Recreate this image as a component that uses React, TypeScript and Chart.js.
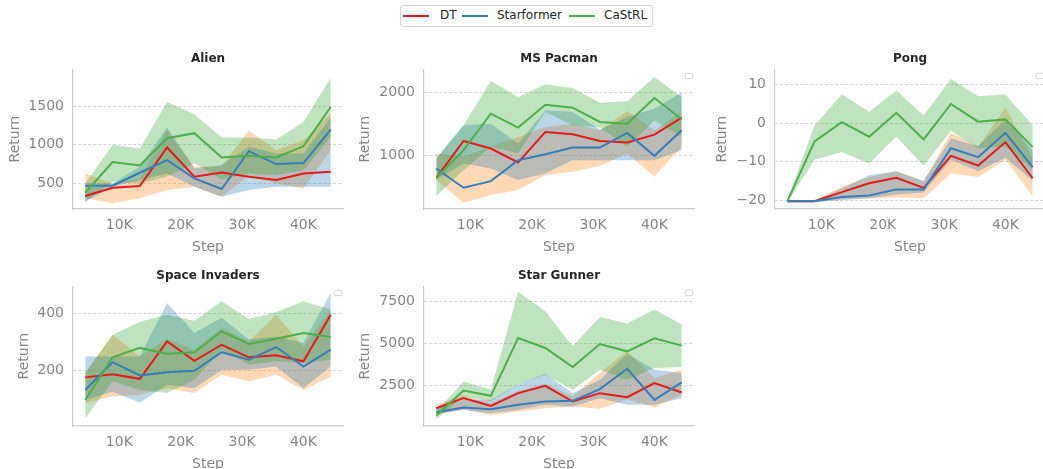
import React, { useEffect, useRef } from 'react';
import { Chart, registerables } from 'chart.js';

Chart.register(...registerables);

const FONT = 'DejaVu Sans';
const TEXT_GRAY = '#858585';
const TITLE_COLOR = '#262626';

const STEPS = [4444, 8889, 13333, 17778, 22222, 26667, 31111, 35556, 40000, 44444];
const X_TICKS = [10000, 20000, 30000, 40000];
const SERIES_NAMES = ['DT', 'Starformer', 'CaStRL'];
const LINE_COLORS = ['#e41a1c', '#377eb8', '#4daf4a'];
const BAND_COLORS = ['rgba(255,127,14,0.3)', 'rgba(31,119,180,0.3)', 'rgba(44,160,44,0.3)'];

// Alien
const ALIEN_DT = [336, 444, 466, 966, 586, 642, 586, 543, 629, 651];
const ALIEN_DT_LO = [306, 241, 306, 414, 457, 328, 600, 500, 435, 930];
const ALIEN_DT_HI = [629, 500, 560, 1190, 716, 716, 1190, 931, 1060, 1405];
const ALIEN_SF = [470, 470, 638, 802, 565, 427, 918, 750, 763, 1198];
const ALIEN_SF_LO = [263, 457, 543, 629, 457, 328, 414, 457, 457, 457];
const ALIEN_SF_HI = [500, 500, 716, 1224, 694, 740, 974, 888, 888, 1350];
const ALIEN_CS = [380, 776, 733, 1086, 1151, 836, 860, 836, 983, 1491];
const ALIEN_CS_LO = [263, 520, 500, 586, 760, 552, 629, 608, 672, 1103];
const ALIEN_CS_HI = [500, 1000, 953, 1556, 1397, 1095, 1095, 1069, 1297, 1871];

// MS Pacman
const PACMAN_DT = [656, 1234, 1115, 896, 1375, 1339, 1234, 1208, 1333, 1599];
const PACMAN_DT_LO = [620, 266, 385, 464, 698, 750, 839, 1036, 672, 1141];
const PACMAN_DT_HI = [1036, 984, 1141, 1297, 1453, 1505, 1401, 1703, 1401, 1688];
const PACMAN_SF = [802, 500, 604, 932, 1026, 1130, 1130, 1359, 1000, 1401];
const PACMAN_SF_LO = [620, 880, 802, 620, 724, 932, 932, 932, 932, 1089];
const PACMAN_SF_HI = [958, 1479, 1505, 1193, 1714, 1688, 1411, 1609, 1740, 2000];
const PACMAN_CS = [656, 1089, 1661, 1443, 1802, 1755, 1531, 1505, 1906, 1573];
const PACMAN_CS_LO = [370, 776, 1141, 1036, 1688, 1479, 1443, 1141, 1557, 1297];
const PACMAN_CS_HI = [958, 1479, 2172, 1922, 2120, 2063, 1833, 1854, 2234, 1922];

// Pong
const PONG_DT = [-20.3, -20.3, -17.9, -15.6, -14.2, -16.8, -8.5, -11.0, -4.9, -14.3];
const PONG_DT_LO = [-20.5, -20.5, -19.7, -19.5, -19.3, -19.5, -13, -14, -9.5, -19];
const PONG_DT_HI = [-20.1, -20.1, -16.5, -14, -12.5, -15, -2.5, -6, 4, -9];
const PONG_SF = [-20.3, -20.3, -19.2, -18.8, -17.2, -17.2, -6.5, -8.8, -2.5, -11.4];
const PONG_SF_LO = [-20.5, -20.5, -20, -19.5, -18.5, -18, -9.5, -12.5, -9, -15];
const PONG_SF_HI = [-20.1, -20.1, -17, -13.5, -12.5, -15, -4, -6, 1, -7];
const PONG_CS = [-20.3, -4.7, 0.3, -3.5, 2.7, -4.2, 5.0, 0.4, 1.0, -6.2];
const PONG_CS_LO = [-20.6, -9.5, -7.5, -10.5, -3.5, -11, -2, -6.5, -6, -12];
const PONG_CS_HI = [-20.0, -0.5, 7.5, 3, 8.5, 2, 11.5, 7, 7.5, -0.5];

// Space Invaders
const SPACE_DT = [177, 188, 172, 303, 235, 291, 247, 254, 233, 396];
const SPACE_DT_LO = [87, 110, 116, 139, 122, 186, 163, 186, 133, 180];
const SPACE_DT_HI = [192, 326, 250, 310, 274, 350, 303, 396, 285, 414];
const SPACE_SF = [133, 230, 184, 195, 200, 265, 239, 283, 215, 274];
const SPACE_SF_LO = [98, 127, 89, 151, 139, 204, 204, 215, 139, 215];
const SPACE_SF_HI = [250, 250, 250, 437, 332, 385, 309, 320, 297, 473];
const SPACE_CS = [98, 247, 280, 260, 265, 338, 294, 312, 332, 318];
const SPACE_CS_LO = [34, 163, 133, 122, 168, 274, 221, 233, 227, 239];
const SPACE_CS_HI = [192, 326, 371, 396, 375, 443, 381, 405, 443, 414];

// Star Gunner
const GUNNER_DT = [1125, 1724, 1265, 2022, 2460, 1524, 2022, 1783, 2620, 2062];
const GUNNER_DT_LO = [727, 1066, 727, 926, 1125, 1225, 1100, 1650, 1186, 1923];
const GUNNER_DT_HI = [1325, 1900, 1425, 2150, 2600, 1823, 3217, 4512, 2918, 3416];
const GUNNER_SF = [887, 1165, 1066, 1325, 1524, 1564, 2261, 3476, 1624, 2659];
const GUNNER_SF_LO = [787, 1026, 827, 1026, 1325, 1225, 1724, 1325, 1325, 1724];
const GUNNER_SF_HI = [1125, 1624, 1624, 2520, 3177, 2022, 2819, 4373, 3416, 3217];
const GUNNER_CS = [687, 2181, 1862, 5309, 4711, 3576, 4950, 4512, 5289, 4851];
const GUNNER_CS_LO = [468, 1823, 1524, 2520, 3118, 2221, 3416, 2819, 3516, 3576];
const GUNNER_CS_HI = [926, 2719, 2221, 8058, 6902, 4811, 6564, 6165, 7002, 6106];

const ALIEN_Y_TICKS = [500, 1000, 1500];
const PACMAN_Y_TICKS = [1000, 2000];
const PONG_Y_TICKS = [-20, -10, 0, 10];
const SPACE_Y_TICKS = [200, 400];
const GUNNER_Y_TICKS = [2500, 5000, 7500];

type Series = { mean: number[]; lo: number[]; hi: number[] };
type PanelSpec = {
  title: string;
  series: Series[];
  yMin: number;
  yMax: number;
  yTicks: number[];
  left: number;
  top: number;
  yTitlePad: number;
  emptyLegend: boolean;
};

const PANELS: PanelSpec[] = [
  {
    title: 'Alien',
    series: [
      { mean: ALIEN_DT, lo: ALIEN_DT_LO, hi: ALIEN_DT_HI },
      { mean: ALIEN_SF, lo: ALIEN_SF_LO, hi: ALIEN_SF_HI },
      { mean: ALIEN_CS, lo: ALIEN_CS_LO, hi: ALIEN_CS_HI },
    ],
    yMin: 168, yMax: 1978, yTicks: ALIEN_Y_TICKS, left: 0, top: 40, yTitlePad: 6.5, emptyLegend: false,
  },
  {
    title: 'MS Pacman',
    series: [
      { mean: PACMAN_DT, lo: PACMAN_DT_LO, hi: PACMAN_DT_HI },
      { mean: PACMAN_SF, lo: PACMAN_SF_LO, hi: PACMAN_SF_HI },
      { mean: PACMAN_CS, lo: PACMAN_CS_LO, hi: PACMAN_CS_HI },
    ],
    yMin: 167, yMax: 2355, yTicks: PACMAN_Y_TICKS, left: 351, top: 40, yTitlePad: 6, emptyLegend: true,
  },
  {
    title: 'Pong',
    series: [
      { mean: PONG_DT, lo: PONG_DT_LO, hi: PONG_DT_HI },
      { mean: PONG_SF, lo: PONG_SF_LO, hi: PONG_SF_HI },
      { mean: PONG_CS, lo: PONG_CS_LO, hi: PONG_CS_HI },
    ],
    yMin: -22.3, yMax: 14, yTicks: PONG_Y_TICKS, left: 702, top: 40, yTitlePad: 12, emptyLegend: true,
  },
  {
    title: 'Space Invaders',
    series: [
      { mean: SPACE_DT, lo: SPACE_DT_LO, hi: SPACE_DT_HI },
      { mean: SPACE_SF, lo: SPACE_SF_LO, hi: SPACE_SF_HI },
      { mean: SPACE_CS, lo: SPACE_CS_LO, hi: SPACE_CS_HI },
    ],
    yMin: 7, yMax: 495, yTicks: SPACE_Y_TICKS, left: 0, top: 257, yTitlePad: 15.5, emptyLegend: true,
  },
  {
    title: 'Star Gunner',
    series: [
      { mean: GUNNER_DT, lo: GUNNER_DT_LO, hi: GUNNER_DT_HI },
      { mean: GUNNER_SF, lo: GUNNER_SF_LO, hi: GUNNER_SF_HI },
      { mean: GUNNER_CS, lo: GUNNER_CS_LO, hi: GUNNER_CS_HI },
    ],
    yMin: 66, yMax: 8379, yTicks: GUNNER_Y_TICKS, left: 351, top: 257, yTitlePad: 6, emptyLegend: true,
  },
];

const CANVAS_W = 345;
const CANVAS_H = 216;
const Y_AXIS_W = 73;
const X_AXIS_H = 47;

const toPoints = (vals: number[]) => vals.map((y, i) => ({ x: STEPS[i], y }));

const emptyLegendPlugin = {
  id: 'emptyLegendBox',
  afterDraw(chart: any) {
    const show = chart.options.plugins.emptyLegendBox?.show;
    if (!show) return;
    const { ctx, chartArea } = chart;
    ctx.save();
    ctx.beginPath();
    const x = chartArea.right - 8.8;
    const y = chartArea.top + 3.8;
    (ctx as any).roundRect(x, y, 7.5, 5.5, 1.5);
    ctx.fillStyle = 'rgba(255,255,255,0.8)';
    ctx.fill();
    ctx.strokeStyle = '#d0d0d0';
    ctx.lineWidth = 1;
    ctx.stroke();
    ctx.restore();
  },
};

function Panel({ spec }: { spec: PanelSpec }) {
  const ref = useRef<HTMLCanvasElement | null>(null);
  useEffect(() => {
    if (!ref.current) return;
    const datasets: any[] = [];
    spec.series.forEach((s, i) => {
      datasets.push({
        label: SERIES_NAMES[i] + ' upper',
        data: toPoints(s.hi),
        borderWidth: 0,
        borderColor: 'rgba(0,0,0,0)',
        backgroundColor: BAND_COLORS[i],
        pointRadius: 0,
        fill: false,
        order: 12 - i,
      });
      datasets.push({
        label: SERIES_NAMES[i] + ' lower',
        data: toPoints(s.lo),
        borderWidth: 0,
        borderColor: 'rgba(0,0,0,0)',
        backgroundColor: BAND_COLORS[i],
        pointRadius: 0,
        fill: '-1',
        order: 12 - i,
      });
    });
    spec.series.forEach((s, i) => {
      datasets.push({
        label: SERIES_NAMES[i],
        data: toPoints(s.mean),
        borderWidth: 2,
        borderColor: LINE_COLORS[i],
        backgroundColor: LINE_COLORS[i],
        pointRadius: 0,
        fill: false,
        order: 3 - i,
      });
    });

    const chart = new Chart(ref.current, {
      type: 'line',
      data: { datasets },
      plugins: [emptyLegendPlugin],
      options: {
        animation: false,
        responsive: false,
        maintainAspectRatio: false,
        devicePixelRatio: 1,
        layout: { padding: { left: 0, right: 2, top: 0, bottom: 0 } },
        elements: { line: { tension: 0 } },
        plugins: {
          legend: { display: false },
          tooltip: { enabled: false },
          filler: { propagate: false, drawTime: 'beforeDatasetsDraw' },
          title: {
            display: true,
            fullSize: false,
            text: spec.title,
            color: TITLE_COLOR,
            font: { family: FONT, size: 12, weight: 'bold' },
            padding: { top: 12, bottom: 3 },
          },
          emptyLegendBox: { show: spec.emptyLegend },
        } as any,
        scales: {
          x: {
            type: 'linear',
            min: 2444,
            max: 46444,
            afterBuildTicks: (s: any) => {
              s.ticks = X_TICKS.map((v) => ({ value: v }));
            },
            afterFit: (s: any) => {
              s.height = X_AXIS_H;
            },
            grid: { display: false, drawTicks: false },
            border: { display: true, color: '#cccccc', width: 1.2 },
            ticks: {
              color: TEXT_GRAY,
              font: { family: FONT, size: 14 },
              padding: 8,
              maxRotation: 0,
              autoSkip: false,
              callback: (v: any) => Number(v) / 1000 + 'K',
            },
            title: {
              display: true,
              text: 'Step',
              color: TEXT_GRAY,
              font: { family: FONT, size: 14 },
              padding: { top: 0, bottom: 0 },
            },
          },
          y: {
            type: 'linear',
            min: spec.yMin,
            max: spec.yMax,
            afterBuildTicks: (s: any) => {
              s.ticks = spec.yTicks.map((v) => ({ value: v }));
            },
            afterFit: (s: any) => {
              s.width = Y_AXIS_W;
            },
            grid: { display: true, drawTicks: false, color: '#d4d4d4', lineWidth: 1 },
            border: { display: true, color: '#cccccc', width: 1.2, dash: [3, 2] },
            ticks: {
              color: TEXT_GRAY,
              font: { family: FONT, size: 14 },
              padding: 9,
              autoSkip: false,
              callback: (v: any) => {
                const n = Number(v);
                return n < 0 ? '\u2212' + Math.abs(n) : String(n);
              },
            },
            title: {
              display: true,
              text: 'Return',
              color: TEXT_GRAY,
              font: { family: FONT, size: 14 },
              padding: { top: spec.yTitlePad, bottom: 0 },
            },
          },
        },
      } as any,
    });
    return () => chart.destroy();
  }, [spec]);

  return (
    <canvas
      ref={ref}
      width={CANVAS_W}
      height={CANVAS_H}
      style={{ position: 'absolute', left: spec.left, top: spec.top, width: CANVAS_W, height: CANVAS_H }}
    />
  );
}

const LEGEND_ITEMS = [
  { lineLeft: 403, textLeft: 440 },
  { lineLeft: 462, textLeft: 497 },
  { lineLeft: 569, textLeft: 604 },
];

function Legend() {
  return (
    <>
      <div
        style={{
          position: 'absolute',
          left: 400,
          top: 5,
          width: 253,
          height: 22,
          boxSizing: 'border-box',
          border: '1px solid #d6d6d6',
          borderRadius: 3,
          background: '#fff',
        }}
      />
      {SERIES_NAMES.map((name, i) => (
        <React.Fragment key={name}>
          <div
            style={{
              position: 'absolute',
              left: LEGEND_ITEMS[i].lineLeft,
              top: 15,
              width: 26,
              height: 2,
              background: LINE_COLORS[i],
            }}
          />
          <span
            style={{
              position: 'absolute',
              left: LEGEND_ITEMS[i].textLeft,
              top: 8,
              fontFamily: FONT,
              fontSize: 12,
              lineHeight: '15px',
              color: TITLE_COLOR,
              whiteSpace: 'nowrap',
            }}
          >
            {name}
          </span>
        </React.Fragment>
      ))}
    </>
  );
}

export default function App() {
  return (
    <div
      style={{
        position: 'absolute',
        left: 0,
        top: 0,
        width: 1043,
        height: 469,
        overflow: 'hidden',
        background: '#fff',
      }}
    >
      <Legend />
      {PANELS.map((p) => (
        <Panel key={p.title} spec={p} />
      ))}
    </div>
  );
}
